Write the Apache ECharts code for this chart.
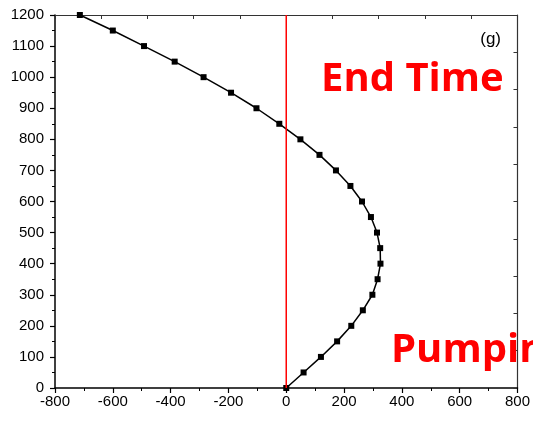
<!DOCTYPE html>
<html>
<head>
<meta charset="utf-8">
<script src="https://cdn.jsdelivr.net/npm/echarts@6/dist/echarts.min.js"></script>
<style>html,body{margin:0;padding:0;background:#fff}#c{width:533px;height:421px}</style>
</head>
<body>
<div id="c"></div>
<script>
// Data
const depthValues = [0,50,100,150,200,250,300,350,400,450,500,550,600,650,700,750,800,850,900,950,1000,1050,1100,1150,1200];
const seriesValues = [0,60,120,176,225,265,298,316,326,325,314,293,262,222,172,115,49,-24,-103,-191,-286,-386,-492,-600,-714];
const refLineX = [0,0];
const refLineY = [0,1200];
const xTicks = {min:-800, max:800, step:200};
const yTicks = {min:0, max:1200, step:100};
const panelLabel = "(g)";
const annotTop = "End Time";
const annotBottom = "Pumping";

const curve = depthValues.map((y,i)=>[seriesValues[i], y]);
const refLine = refLineX.map((x,i)=>[x, refLineY[i]]);

const chart = echarts.init(document.getElementById('c'), null, {renderer:'canvas'});
const labelFont = {color:'#000', fontSize:15, fontFamily:'Liberation Sans, Arial, sans-serif', formatter:(v)=>String(v)};
chart.setOption({
  animation:false,
  backgroundColor:'#fff',
  grid:{left:55, right:14, top:15, bottom:33, containLabel:false},
  xAxis:[{
    type:'value', position:'bottom', min:xTicks.min, max:xTicks.max, interval:xTicks.step,
    axisLine:{show:true, onZero:false, lineStyle:{color:'#000', width:1.5}},
    axisTick:{show:true, inside:false, length:5, lineStyle:{color:'#000', width:1.2}},
    minorTick:{show:true, splitNumber:2, length:3, lineStyle:{color:'#000', width:1}},
    axisLabel:Object.assign({margin:6}, labelFont),
    splitLine:{show:false}, minorSplitLine:{show:false}
  },{
    type:'value', position:'top', min:xTicks.min, max:xTicks.max, interval:160,
    axisLine:{show:true, onZero:false, lineStyle:{color:'#333', width:1.2}},
    axisTick:{show:true, inside:true, length:4, lineStyle:{color:'#333', width:1}},
    axisLabel:{show:false}, splitLine:{show:false}
  }],
  yAxis:[{
    type:'value', position:'left', min:yTicks.min, max:yTicks.max, interval:yTicks.step,
    axisLine:{show:true, onZero:false, lineStyle:{color:'#000', width:1.5}},
    axisTick:{show:true, inside:false, length:5, lineStyle:{color:'#000', width:1.2}},
    minorTick:{show:true, splitNumber:2, length:3, lineStyle:{color:'#000', width:1}},
    axisLabel:Object.assign({margin:11}, labelFont),
    splitLine:{show:false}, minorSplitLine:{show:false}
  },{
    type:'value', position:'right', min:yTicks.min, max:yTicks.max, interval:120,
    axisLine:{show:true, onZero:false, lineStyle:{color:'#333', width:1.2}},
    axisTick:{show:true, inside:true, length:4, lineStyle:{color:'#333', width:1}},
    axisLabel:{show:false}, splitLine:{show:false}
  }],
  series:[{
    type:'line', xAxisIndex:0, yAxisIndex:0, data:curve,
    symbol:'rect', symbolSize:6, showAllSymbol:true,
    lineStyle:{color:'#000', width:1.5}, itemStyle:{color:'#000'},
    clip:false, z:2
  },{
    type:'line', xAxisIndex:0, yAxisIndex:0, data:refLine,
    symbol:'none', lineStyle:{color:'#ff0000', width:1.5}, z:3
  }],
  graphic:[
    {type:'text', right:32, top:31, z:10, style:{text:panelLabel, fill:'#000', fontSize:17, fontFamily:'Liberation Sans', fontWeight:'normal'}},
    {type:'text', left:321, top:60, z:10, style:{text:annotTop, fill:'#ff0000', fontSize:40, fontFamily:'Open Sans', fontWeight:'bold'}},
    {type:'text', left:391, top:331, z:10, style:{text:annotBottom, fill:'#ff0000', fontSize:40, fontFamily:'Open Sans', fontWeight:'bold'}}
  ]
});
</script>
</body>
</html>
